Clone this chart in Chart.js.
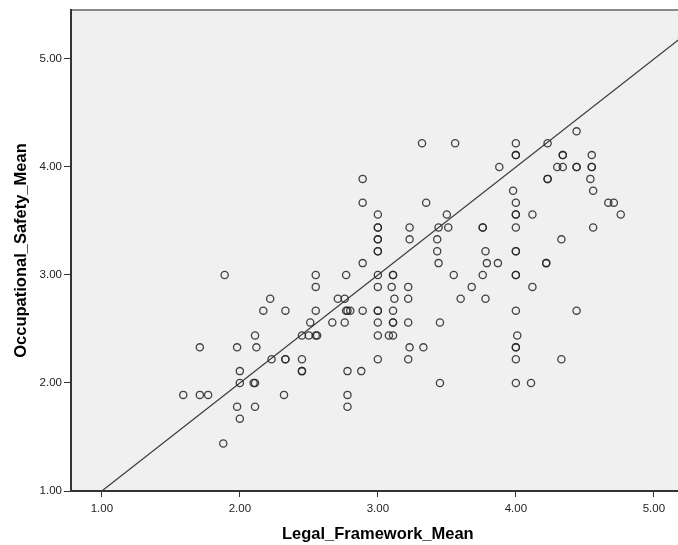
<!DOCTYPE html>
<html><head><meta charset="utf-8">
<script src="https://cdn.jsdelivr.net/npm/chart.js@4"></script>
<style>html,body{margin:0;padding:0;background:#fff;overflow:hidden;width:678px;height:545px}canvas{display:block}</style>
</head><body>
<canvas id="c" width="690" height="545" style="width:690px;height:545px"></canvas>
<script>
const legalFrameworkMean = [
 1.59,1.71,1.77,1.88,1.89,1.71,1.98,1.98,2.00,2.00,2.00,2.10,2.11,2.11,2.12,2.11,2.17,2.22,2.23,2.32,
 2.33,2.33,2.33,2.45,2.45,2.45,2.45,2.50,2.55,2.56,2.51,2.55,2.55,2.55,2.67,2.71,2.76,2.77,2.77,2.78,
 2.80,2.76,2.78,2.78,2.78,2.88,2.89,2.89,2.89,2.89,
 3.00,3.00,3.00,3.00,3.00,3.00,3.00,3.00,3.00,3.00,3.00,3.00,3.00,3.00,
 3.08,3.11,3.10,3.11,3.11,3.12,3.11,3.11,3.11,3.22,3.22,3.22,3.22,3.23,3.23,3.23,3.32,3.33,3.35,3.43,
 3.43,3.44,3.44,3.45,3.45,3.50,3.51,3.55,3.56,3.60,3.68,3.76,3.76,3.76,3.78,3.78,3.79,3.87,3.88,3.98,
 4.00,4.00,4.00,4.00,4.00,4.00,4.00,4.00,4.00,4.00,4.00,4.00,4.01,4.00,4.00,4.00,4.00,
 4.11,4.12,4.12,4.22,4.22,4.23,4.23,4.23,4.30,4.34,4.34,4.34,4.33,4.33,4.44,4.44,4.44,4.44,4.55,4.55,
 4.55,4.54,4.56,4.56,4.67,4.71,4.76
];
const occupationalSafetyMean = [
 1.89,1.89,1.89,1.44,3.00,2.33,2.33,1.78,1.67,2.11,2.00,2.00,2.00,2.44,2.33,1.78,2.67,2.78,2.22,1.89,
 2.67,2.22,2.22,2.22,2.11,2.11,2.44,2.44,2.44,2.44,2.56,3.00,2.89,2.67,2.56,2.78,2.78,3.00,2.67,2.67,
 2.67,2.56,2.11,1.89,1.78,2.11,3.89,3.67,3.11,2.67,
 3.56,3.44,3.44,3.33,3.33,3.22,3.22,3.00,2.89,2.67,2.67,2.56,2.44,2.22,
 2.44,2.44,2.89,3.00,3.00,2.78,2.67,2.56,2.56,2.89,2.78,2.56,2.22,3.44,3.33,2.33,4.22,2.33,3.67,3.33,
 3.22,3.44,3.11,2.56,2.00,3.56,3.44,3.00,4.22,2.78,2.89,3.44,3.44,3.00,3.22,2.78,3.11,3.11,4.00,3.78,
 4.22,4.11,4.11,3.67,3.56,3.56,3.44,3.22,3.22,3.00,3.00,2.67,2.44,2.33,2.33,2.22,2.00,
 2.00,3.56,2.89,3.11,3.11,4.22,3.89,3.89,4.00,4.00,4.11,4.11,3.33,2.22,4.33,4.00,4.00,2.67,4.11,4.00,
 4.00,3.89,3.78,3.44,3.67,3.67,3.56
];
const referenceLineX = [1.00, 5.2234];
const xTickValues = [1, 2, 3, 4, 5];
const yTickValues = [1, 2, 3, 4, 5];
const xTitle = 'Legal_Framework_Mean';
const yTitle = 'Occupational_Safety_Mean';

const FONT = "'Liberation Sans', Arial, sans-serif";
const points = legalFrameworkMean.map((x, i) => ({x: x, y: occupationalSafetyMean[i]}));
const refLine = referenceLineX.map(v => ({x: v, y: v}));

const bgPlugin = {
  id: 'plotBg',
  beforeDraw(chart) {
    const {ctx, chartArea: a} = chart;
    ctx.save();
    ctx.fillStyle = '#f0f0f0';
    ctx.fillRect(a.left, a.top, a.right - a.left, a.bottom - a.top);
    ctx.fillStyle = '#8a8a8a';
    ctx.fillRect(a.left, a.top - 1, a.right - a.left, 2);
    ctx.restore();
  }
};

new Chart(document.getElementById('c'), {
  type: 'scatter',
  data: {
    datasets: [
      {
        type: 'line', data: refLine, borderColor: '#3a3a3a', borderWidth: 1.2,
        pointRadius: 0, fill: false, tension: 0, order: 2
      },
      {
        data: points, backgroundColor: 'rgba(0,0,0,0)', borderColor: 'rgba(35,35,35,0.85)',
        borderWidth: 1.3, pointRadius: 3.6, pointStyle: 'circle', order: 1
      }
    ]
  },
  plugins: [bgPlugin],
  options: {
    responsive: false, animation: false,
    layout: {padding: {top: 10, left: 0, right: 2, bottom: 0}},
    plugins: {legend: {display: false}, tooltip: {enabled: false}},
    scales: {
      x: {
        type: 'linear', min: 0.7766, max: 5.2234,
        afterBuildTicks: s => { s.ticks = xTickValues.map(v => ({value: v})); },
        afterFit: s => { s.height = 54; },
        ticks: {callback: v => Number(v).toFixed(2), font: {family: FONT, size: 11.5}, color: '#222',
                padding: 5, maxRotation: 0, autoSkip: false},
        grid: {drawOnChartArea: false, tickLength: 6, color: '#333', lineWidth: 1},
        border: {display: true, color: '#333', width: 2},
        title: {display: true, text: xTitle, color: '#000',
                font: {family: FONT, size: 16.5, weight: 'bold'}, padding: {top: 0, bottom: 1}}
      },
      y: {
        type: 'linear', min: 1, max: 5.4537,
        afterBuildTicks: s => { s.ticks = yTickValues.map(v => ({value: v})); },
        afterFit: s => { s.width = 71; },
        ticks: {callback: v => Number(v).toFixed(2), font: {family: FONT, size: 11.5}, color: '#222',
                padding: 2, autoSkip: false},
        grid: {drawOnChartArea: false, tickLength: 7, color: '#333', lineWidth: 1},
        border: {display: true, color: '#333', width: 2},
        title: {display: true, text: yTitle, color: '#000',
                font: {family: FONT, size: 16.5, weight: 'bold'}, padding: {top: 12, bottom: 0}}
      }
    }
  }
});
</script>
</body></html>
